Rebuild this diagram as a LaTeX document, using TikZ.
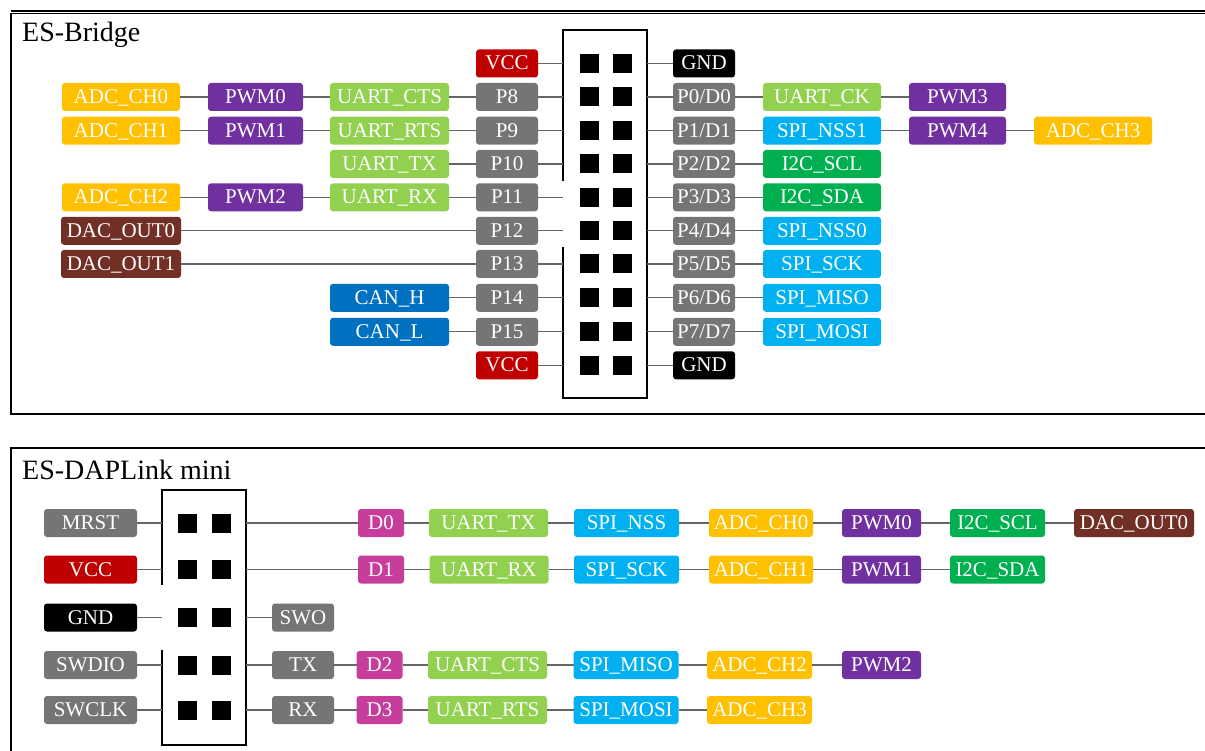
\documentclass[tikz,border=0pt]{standalone}
\usepackage{fontspec}
\setmainfont{Liberation Serif}
\definecolor{tagGrey}{HTML}{757575}
\definecolor{tagRed}{HTML}{C00000}
\definecolor{tagOrange}{HTML}{FFC000}
\definecolor{tagPurple}{HTML}{7030A0}
\definecolor{tagLime}{HTML}{92D050}
\definecolor{tagGreen}{HTML}{00B050}
\definecolor{tagSky}{HTML}{00B0F0}
\definecolor{tagBlue}{HTML}{0070C0}
\definecolor{tagBrown}{HTML}{722F25}
\definecolor{tagPink}{HTML}{C73D9C}
\tikzset{
  tag/.style={fill=#1, text=white, rounded corners=3pt, minimum height=28pt, inner sep=0pt, outer sep=0pt, text height=15.5pt, text depth=2.5pt, font=\fontsize{21}{21}\selectfont},
  pad/.style={fill=black, minimum size=19pt, inner sep=0pt, outer sep=0pt},
  wire/.style={line width=1.2pt, black!60},
  frame/.style={line width=1.8pt, black},
  title/.style={font=\fontsize{28}{28}\selectfont, anchor=west, inner sep=0pt}
}
\begin{document}
\begin{tikzpicture}[x=1pt, y=-1pt]
  \useasboundingbox (0,0) rectangle (1205,751);
  % ES-Bridge frame
  \draw[frame] (11,10.8) -- (1205,10.8);
  \draw[frame, line width=1.2pt] (1205,13.6) -- (11,13.6);
  \draw[frame] (11,13) -- (11,414) -- (1205,414);
  \node[title] (titleA) at (22,35) {ES-Bridge};
  % Header 2x10
  \draw[frame] (563,181) -- (563,30) -- (647,30) -- (647,398) -- (563,398) -- (563,247);
  \foreach \y [count=\i] in {63.5,97,130.7,164,197.3,230.8,264,297.8,331.8,365.3} {
    \coordinate (al\i) at (563,\y);
    \coordinate (ar\i) at (647,\y);
    \node[pad] (apl\i) at (589,\y) {};
    \node[pad] (apr\i) at (622,\y) {};
  }
  % Left pins
  \node[tag=tagRed, minimum width=62pt] (vccA) at (507,63.5) {VCC};
  \node[tag=tagGrey, minimum width=62pt] (p8) at (507,97) {P8};
  \node[tag=tagGrey, minimum width=62pt] (p9) at (507,130.7) {P9};
  \node[tag=tagGrey, minimum width=62pt] (p10) at (507,164) {P10};
  \node[tag=tagGrey, minimum width=62pt] (p11) at (507,197.3) {P11};
  \node[tag=tagGrey, minimum width=62pt] (p12) at (507,230.8) {P12};
  \node[tag=tagGrey, minimum width=62pt] (p13) at (507,264) {P13};
  \node[tag=tagGrey, minimum width=62pt] (p14) at (507,297.8) {P14};
  \node[tag=tagGrey, minimum width=62pt] (p15) at (507,331.8) {P15};
  \node[tag=tagRed, minimum width=62pt] (vccB) at (507,365.3) {VCC};
  % Left functions
  \node[tag=tagLime, minimum width=119pt] (uartCts) at (389.5,97) {UART\_CTS};
  \node[tag=tagLime, minimum width=119pt] (uartRts) at (389.5,130.7) {UART\_RTS};
  \node[tag=tagLime, minimum width=119pt] (uartTx) at (389.5,164) {UART\_TX};
  \node[tag=tagLime, minimum width=119pt] (uartRx) at (389.5,197.3) {UART\_RX};
  \node[tag=tagBlue, minimum width=119pt] (canH) at (389.5,297.8) {CAN\_H};
  \node[tag=tagBlue, minimum width=119pt] (canL) at (389.5,331.8) {CAN\_L};
  \node[tag=tagPurple, minimum width=95pt] (pwm0) at (255.5,97) {PWM0};
  \node[tag=tagPurple, minimum width=95pt] (pwm1) at (255.5,130.7) {PWM1};
  \node[tag=tagPurple, minimum width=95pt] (pwm2) at (255.5,197.3) {PWM2};
  \node[tag=tagOrange, minimum width=118pt] (adc0) at (121,97) {ADC\_CH0};
  \node[tag=tagOrange, minimum width=118pt] (adc1) at (121,130.7) {ADC\_CH1};
  \node[tag=tagOrange, minimum width=118pt] (adc2) at (121,197.3) {ADC\_CH2};
  \node[tag=tagBrown, minimum width=120pt] (dac0) at (121,230.8) {DAC\_OUT0};
  \node[tag=tagBrown, minimum width=120pt] (dac1) at (121,264) {DAC\_OUT1};
  % Right pins
  \node[tag=black, minimum width=62pt] (gndA) at (704,63.5) {GND};
  \node[tag=tagGrey, minimum width=62pt] (p0) at (704,97) {P0/D0};
  \node[tag=tagGrey, minimum width=62pt] (p1) at (704,130.7) {P1/D1};
  \node[tag=tagGrey, minimum width=62pt] (p2) at (704,164) {P2/D2};
  \node[tag=tagGrey, minimum width=62pt] (p3) at (704,197.3) {P3/D3};
  \node[tag=tagGrey, minimum width=62pt] (p4) at (704,230.8) {P4/D4};
  \node[tag=tagGrey, minimum width=62pt] (p5) at (704,264) {P5/D5};
  \node[tag=tagGrey, minimum width=62pt] (p6) at (704,297.8) {P6/D6};
  \node[tag=tagGrey, minimum width=62pt] (p7) at (704,331.8) {P7/D7};
  \node[tag=black, minimum width=62pt] (gndB) at (704,365.3) {GND};
  % Right functions
  \node[tag=tagLime, minimum width=118pt] (uartCk) at (822,97) {UART\_CK};
  \node[tag=tagSky, minimum width=118pt] (spiNssA) at (822,130.7) {SPI\_NSS1};
  \node[tag=tagGreen, minimum width=118pt] (i2cScl) at (822,164) {I2C\_SCL};
  \node[tag=tagGreen, minimum width=118pt] (i2cSda) at (822,197.3) {I2C\_SDA};
  \node[tag=tagSky, minimum width=118pt] (spiNssB) at (822,230.8) {SPI\_NSS0};
  \node[tag=tagSky, minimum width=118pt] (spiSck) at (822,264) {SPI\_SCK};
  \node[tag=tagSky, minimum width=118pt] (spiMiso) at (822,297.8) {SPI\_MISO};
  \node[tag=tagSky, minimum width=118pt] (spiMosi) at (822,331.8) {SPI\_MOSI};
  \node[tag=tagPurple, minimum width=97pt] (pwm3) at (957.5,97) {PWM3};
  \node[tag=tagPurple, minimum width=97pt] (pwm4) at (957.5,130.7) {PWM4};
  \node[tag=tagOrange, minimum width=118pt] (adc3) at (1093,130.7) {ADC\_CH3};
  % Wires
  \draw[wire] (vccA) -- (al1);
  \draw[wire] (adc0) -- (pwm0) -- (uartCts) -- (p8) -- (al2);
  \draw[wire] (adc1) -- (pwm1) -- (uartRts) -- (p9) -- (al3);
  \draw[wire] (uartTx) -- (p10) -- (al4);
  \draw[wire] (adc2) -- (pwm2) -- (uartRx) -- (p11) -- (al5);
  \draw[wire] (dac0) -- (p12) -- (al6);
  \draw[wire] (dac1) -- (p13) -- (al7);
  \draw[wire] (canH) -- (p14) -- (al8);
  \draw[wire] (canL) -- (p15) -- (al9);
  \draw[wire] (vccB) -- (al10);
  \draw[wire] (ar1) -- (gndA);
  \draw[wire] (ar2) -- (p0) -- (uartCk) -- (pwm3);
  \draw[wire] (ar3) -- (p1) -- (spiNssA) -- (pwm4) -- (adc3);
  \draw[wire] (ar4) -- (p2) -- (i2cScl);
  \draw[wire] (ar5) -- (p3) -- (i2cSda);
  \draw[wire] (ar6) -- (p4) -- (spiNssB);
  \draw[wire] (ar7) -- (p5) -- (spiSck);
  \draw[wire] (ar8) -- (p6) -- (spiMiso);
  \draw[wire] (ar9) -- (p7) -- (spiMosi);
  \draw[wire] (ar10) -- (gndB);
  % ES-DAPLink mini frame
  \draw[frame] (1205,448) -- (11,448) -- (11,751);
  \node[title] (titleB) at (22,470) {ES-DAPLink mini};
  % Header 2x5
  \draw[frame] (162,585) -- (162,490) -- (246,490) -- (246,745) -- (162,745) -- (162,650);
  \foreach \y [count=\i] in {523,569.5,617.5,665,710} {
    \coordinate (bl\i) at (162,\y);
    \coordinate (br\i) at (246,\y);
    \node[pad] (bpl\i) at (187,\y) {};
    \node[pad] (bpr\i) at (221,\y) {};
  }
  % Left signals
  \node[tag=tagGrey, minimum width=93pt] (mrst) at (90.5,523) {MRST};
  \node[tag=tagRed, minimum width=93pt] (vccC) at (90.5,569.5) {VCC};
  \node[tag=black, minimum width=93pt] (gndC) at (90.5,617.5) {GND};
  \node[tag=tagGrey, minimum width=93pt] (swdio) at (90.5,665) {SWDIO};
  \node[tag=tagGrey, minimum width=93pt] (swclk) at (90.5,710) {SWCLK};
  % Right signals
  \node[tag=tagGrey, minimum width=62pt] (swo) at (303,617.5) {SWO};
  \node[tag=tagGrey, minimum width=62pt] (tx) at (303,665) {TX};
  \node[tag=tagGrey, minimum width=62pt] (rx) at (303,710) {RX};
  \node[tag=tagPink, minimum width=46pt] (d0) at (381,523) {D0};
  \node[tag=tagPink, minimum width=46pt] (d1) at (381,569.5) {D1};
  \node[tag=tagPink, minimum width=46pt] (d2) at (379.5,665) {D2};
  \node[tag=tagPink, minimum width=46pt] (d3) at (379.5,710) {D3};
  % Row D0
  \node[tag=tagLime, minimum width=119pt] (txB) at (488.5,523) {UART\_TX};
  \node[tag=tagSky, minimum width=105pt] (nssB) at (626.5,523) {SPI\_NSS};
  \node[tag=tagOrange, minimum width=104pt] (adcB0) at (761,523) {ADC\_CH0};
  \node[tag=tagPurple, minimum width=79pt] (pwmB0) at (881.5,523) {PWM0};
  \node[tag=tagGreen, minimum width=95pt] (sclB) at (997.5,523) {I2C\_SCL};
  \node[tag=tagBrown, minimum width=120pt] (dacB) at (1134,523) {DAC\_OUT0};
  % Row D1
  \node[tag=tagLime, minimum width=119pt] (rxB) at (489,569.5) {UART\_RX};
  \node[tag=tagSky, minimum width=105pt] (sckB) at (626.5,569.5) {SPI\_SCK};
  \node[tag=tagOrange, minimum width=104pt] (adcB1) at (761,569.5) {ADC\_CH1};
  \node[tag=tagPurple, minimum width=79pt] (pwmB1) at (881.5,569.5) {PWM1};
  \node[tag=tagGreen, minimum width=95pt] (sdaB) at (997.5,569.5) {I2C\_SDA};
  % Row D2
  \node[tag=tagLime, minimum width=119pt] (ctsB) at (487.5,665) {UART\_CTS};
  \node[tag=tagSky, minimum width=105pt] (misoB) at (626,665) {SPI\_MISO};
  \node[tag=tagOrange, minimum width=105pt] (adcB2) at (759.5,665) {ADC\_CH2};
  \node[tag=tagPurple, minimum width=79pt] (pwmB2) at (881.5,665) {PWM2};
  % Row D3
  \node[tag=tagLime, minimum width=119pt] (rtsB) at (487.5,710) {UART\_RTS};
  \node[tag=tagSky, minimum width=105pt] (mosiB) at (626,710) {SPI\_MOSI};
  \node[tag=tagOrange, minimum width=105pt] (adcB3) at (759.5,710) {ADC\_CH3};
  % Wires
  \draw[wire] (mrst) -- (bl1);
  \draw[wire] (vccC) -- (bl2);
  \draw[wire] (gndC) -- (bl3);
  \draw[wire] (swdio) -- (bl4);
  \draw[wire] (swclk) -- (bl5);
  \draw[wire] (br1) -- (d0) -- (txB) -- (nssB) -- (adcB0) -- (pwmB0) -- (sclB) -- (dacB);
  \draw[wire] (br2) -- (d1) -- (rxB) -- (sckB) -- (adcB1) -- (pwmB1) -- (sdaB);
  \draw[wire] (br3) -- (swo);
  \draw[wire] (br4) -- (tx) -- (d2) -- (ctsB) -- (misoB) -- (adcB2) -- (pwmB2);
  \draw[wire] (br5) -- (rx) -- (d3) -- (rtsB) -- (mosiB) -- (adcB3);
\end{tikzpicture}
\end{document}
